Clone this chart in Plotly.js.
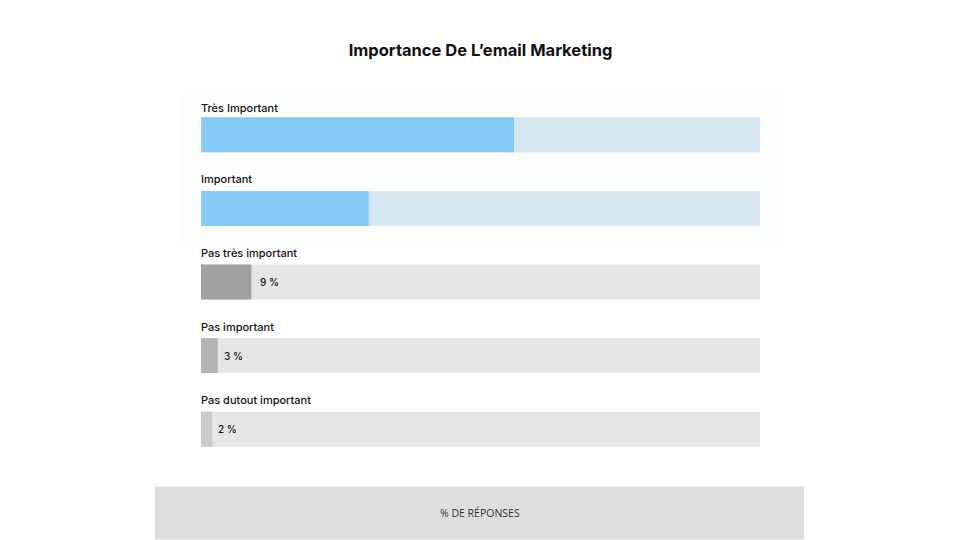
<!DOCTYPE html>
<html><head><meta charset="utf-8">
<script src="https://cdn.plot.ly/plotly-3.0.1.min.js"></script>
<style>html,body{margin:0;padding:0;background:#fff}#c{width:960px;height:540px}</style>
</head><body><div id="c"></div>
<script>
const categories = ["Très Important", "Important", "Pas très important", "Pas important", "Pas dutout important"];
const values = [56, 30, 9, 3, 2];
const valueLabels = ["", "", "9 %", "3 %", "2 %"];
const fullScale = [100, 100, 100, 100, 100];

const barColors = ["#86cbf4", "#86cbf4", "#a0a0a0", "#b4b4b4", "#cacaca"];
const trackColors = ["#d6e6f0", "#d6e6f0", "#e5e5e5", "#e5e5e5", "#e5e5e5"];

const traces = [
  {type: "bar", orientation: "h", y: categories, x: fullScale, marker: {color: trackColors}, width: 0.475, hoverinfo: "skip"},
  {type: "bar", orientation: "h", y: categories, x: values, marker: {color: barColors}, width: 0.475}
];

const annotations = [];
categories.forEach((c, i) => {
  annotations.push({x: 0, y: c, xref: "x", yref: "y", xanchor: "left", yanchor: "middle", yshift: i === 0 ? 27 : 29, xshift: -2,
    text: c, showarrow: false, font: {family: "Inter, Roboto, sans-serif", size: 11, weight: 500, color: "#111"}});
  if (valueLabels[i]) {
    annotations.push({x: values[i], y: c, xref: "x", yref: "y", xanchor: "left", yanchor: "middle", xshift: i === 2 ? 7 : 4,
      text: valueLabels[i], showarrow: false, font: {family: "Inter, Roboto, sans-serif", size: 10, weight: 500, color: "#111"}});
  }
});
annotations.push({x: 0.499, y: -0.1275, xref: "paper", yref: "paper", xanchor: "center", yanchor: "middle",
  text: "% DE RÉPONSES", showarrow: false, font: {family: "Open Sans, sans-serif", size: 10.5, color: "#333"}});

const layout = {
  width: 960, height: 540,
  margin: {l: 201, r: 200, t: 97.6, b: 73.6, pad: 0},
  paper_bgcolor: "#ffffff", plot_bgcolor: "rgba(0,0,0,0)",
  showlegend: false, barmode: "overlay",
  title: {text: "Importance De L’email Marketing", x: 0.5, xref: "paper", xanchor: "center", y: 0.907, yanchor: "middle",
    font: {family: "Inter, sans-serif", size: 16.5, weight: 700, color: "#111"}},
  xaxis: {range: [0, 100], showgrid: false, zeroline: false, showticklabels: false, showline: false, ticks: "", fixedrange: true},
  yaxis: {type: "category", range: [4.5, -0.5], showgrid: false, zeroline: false, showticklabels: false, showline: false, ticks: "", fixedrange: true},
  shapes: [
    {type: "rect", xref: "paper", yref: "paper", x0: -0.0376, x1: 1.0394, y0: 0.599, y1: 1.0075, fillcolor: "#fcfdfd", line: {width: 0}, layer: "below"},
    {type: "rect", xref: "paper", yref: "paper", x0: -0.0823, x1: 1.0787, y0: -0.0559, y1: -0.2, fillcolor: "#dedede", line: {width: 0}, layer: "below"}
  ],
  annotations: annotations
};
Plotly.newPlot("c", traces, layout, {displayModeBar: false, staticPlot: true});
</script></body></html>
